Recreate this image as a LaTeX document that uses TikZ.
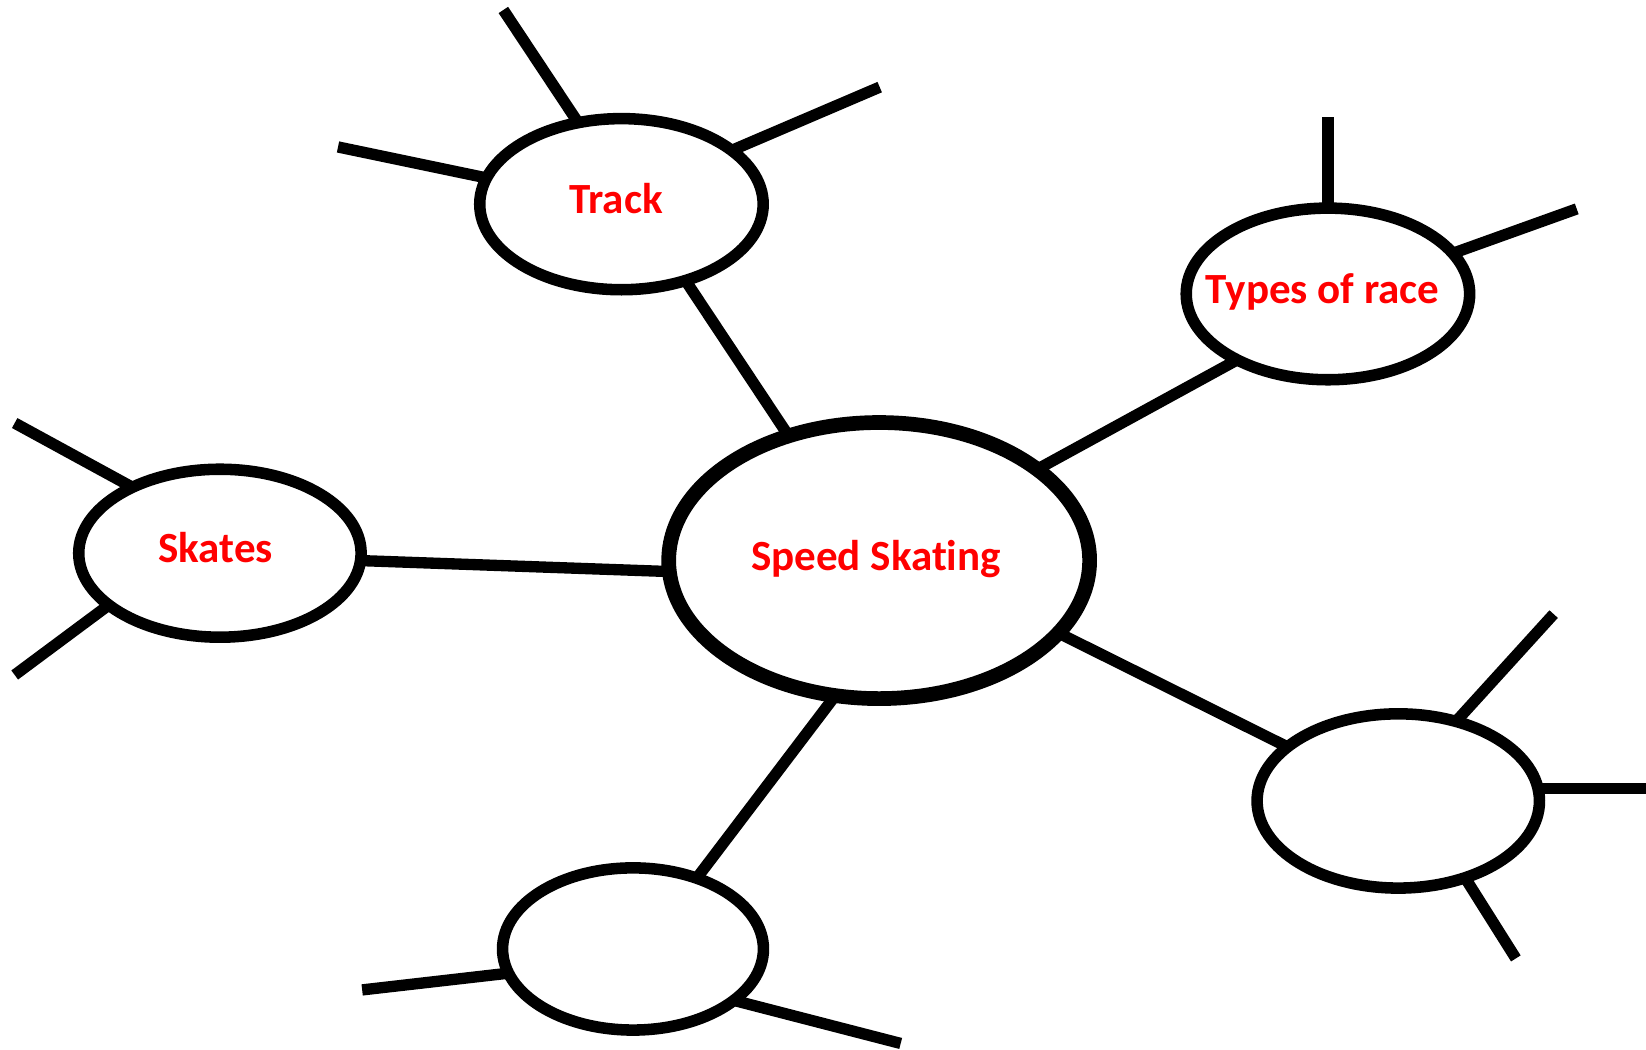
\documentclass[tikz,border=0pt]{standalone}
\usepackage{fontspec}
\setmainfont{Carlito}[Ligatures=NoCommon]
\usetikzlibrary{shapes.geometric}
\newcommand\bubbletext[2][0pt]{\makebox[0pt]{\kern#1#2}}
\begin{document}
\begin{tikzpicture}[x=0.5pt,y=-0.5pt,
  bubble/.style={draw=black, ellipse, line width=5.5pt, inner sep=0pt, outer sep=0pt,
    font=\bfseries\fontsize{20.5}{24}\selectfont, text=red, text height=15pt, text depth=6pt},
  hub/.style={bubble, line width=7pt},
  link/.style={draw=black, line width=5.4pt, line cap=butt}]
\useasboundingbox[fill=white] (0,0) rectangle (1568,1000);
% ellipses
\node[hub, minimum width=200.5pt, minimum height=131.5pt] (hub) at (837.5,534) {\bubbletext[-3pt]{Speed Skating}};
\node[bubble, minimum width=135pt, minimum height=81.5pt] (track) at (592,194.5) {\bubbletext[-5pt]{Track}};
\node[bubble, minimum width=135pt, minimum height=81.75pt] (types) at (1265,280) {\bubbletext[-5pt]{Types of race}};
\node[bubble, minimum width=134.5pt, minimum height=80pt] (skates) at (209.5,527) {\bubbletext[-4pt]{Skates}};
\node[bubble, minimum width=134.5pt, minimum height=83pt] (br) at (1332,763) {};
\node[bubble, minimum width=124.25pt, minimum height=77.25pt] (bot) at (603,904) {};
% free ends
\coordinate (t1) at (479.5,9.5);
\coordinate (t2) at (322,140);
\coordinate (t3) at (838,83);
\coordinate (r1) at (1265,111);
\coordinate (r2) at (1502,199);
\coordinate (s1) at (14,403);
\coordinate (s2) at (14,643);
\coordinate (br1) at (1480,585);
\coordinate (br2) at (1568,750);
\coordinate (br3) at (1444,913);
\coordinate (b1) at (345,943);
\coordinate (b2) at (858,994);
% connectors to hub
\draw[link] (track.310.7) -- (hub.126.3);
\draw[link] (types.216.3) -- (hub.30);
\draw[link] (skates.357.5) -- (hub.183.6);
\draw[link] (hub.338.4) -- (br.154);
\draw[link] (hub.252.4) -- (bot.48.9);
% branches
\draw[link] (track.118.3) -- (t1);
\draw[link] (track.169) -- (t2);
\draw[link] (track.26.6) -- (t3);
\draw[link] (types.90) -- (r1);
\draw[link] (types.18.2) -- (r2);
\draw[link] (skates.143.9) -- (s1);
\draw[link] (skates.205.9) -- (s2);
\draw[link] (br.54.5) -- (br1);
\draw[link] (br.5.6) -- (br.5.6 -| br2);
\draw[link] (br.311.1) -- (br3);
\draw[link] (bot.191.4) -- (b1);
\draw[link] (bot.333.9) -- (b2);
\end{tikzpicture}
\end{document}
